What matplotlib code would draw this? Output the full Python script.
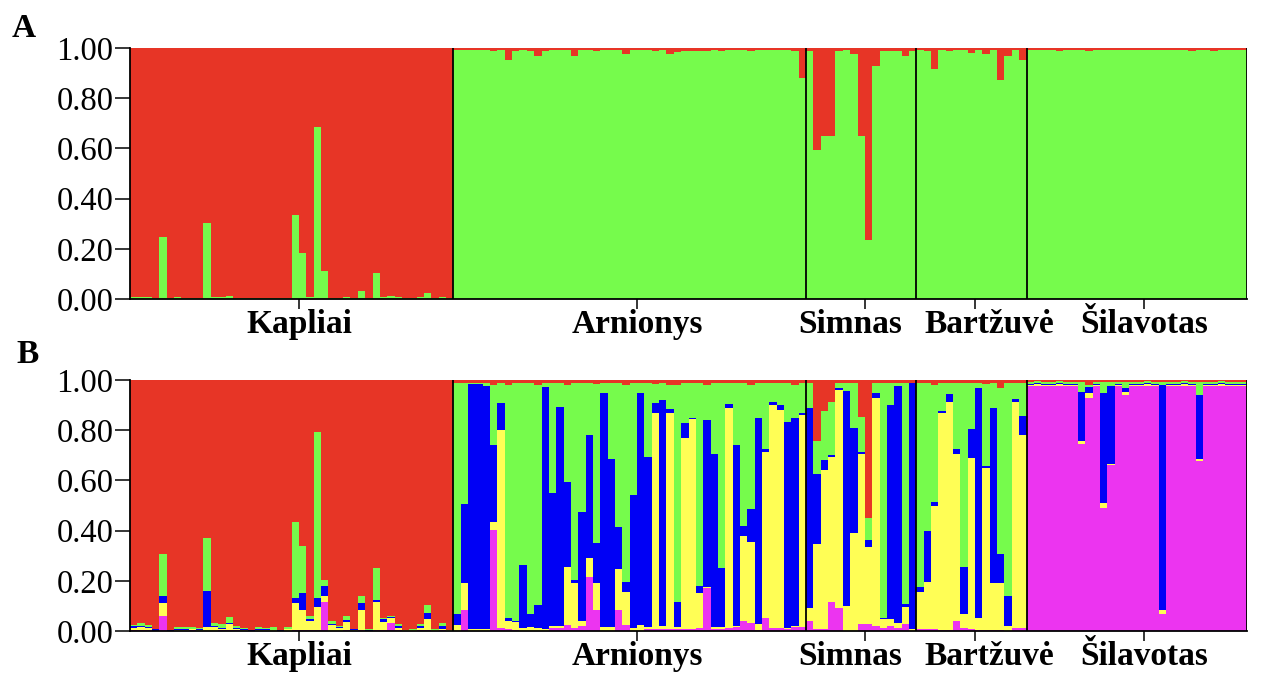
import numpy as np
import matplotlib.pyplot as plt

# populations, in plot order
pops = ["Kapliai", "Arnionys", "Simnas", "Bartžuvė", "Šilavotas"]
pop_sizes = [44, 48, 15, 15, 30]

# ---- panel A (K=2): green cluster share per individual, red = rest ----
a_green = (
    # Kapliai
    [.007, .007, .007, .002, .248, .002, .007, .002, .002, .002,
     .304, .007, .007, .012, .002, .002, .002, .005, .002, .002,
     .002, .002, .333, .184, .007, .685, .112, .002, .002, .007,
     .002, .033, .002, .104, .007, .012, .007, .002, .002, .007,
     .025, .002, .007, .002]
    # Arnionys
    + [.992, .992, .992, .992, .992, .987, .992, .951, .987, .992,
       .987, .968, .987, .992, .992, .992, .968, .992, .992, .987,
       .992, .992, .992, .975, .992, .992, .992, .987, .992, .975,
       .984, .987, .987, .987, .987, .992, .987, .992, .992, .992,
       .987, .992, .992, .992, .992, .992, .987, .880]
    # Simnas
    + [.990, .595, .650, .650, .987, .992, .976, .650, .235, .930,
       .987, .990, .990, .967, .990]
    # Bartzuve
    + [.992, .987, .915, .992, .987, .992, .992, .980, .992, .975,
       .992, .872, .967, .992, .951]
    # Silavotas
    + [.994, .994, .994, .994, .987, .994, .994, .994, .987, .994,
       .994, .994, .994, .994, .994, .994, .994, .994, .994, .994,
       .994, .994, .987, .994, .994, .987, .994, .994, .994, .994]
)

# ---- panel B (K=5): pink, yellow, blue, green shares, red = rest ----
b_pink = (
    [.003, .005, .004, 0, .06, 0, 0, 0, .002, 0,
     0, 0, .002, .004, .002, 0, 0, .001, 0, .001,
     0, 0, .005, .003, .002, .003, .117, 0, .001, .002,
     0, .002, 0, .003, .003, .033, .005, 0, 0, .002,
     .003, 0, .002, 0]
    + [0, .083, 0, 0, 0, .403, .01, .007, .005, 0,
       0, 0, 0, .013, .013, .024, .01, .02, .217, .083,
       0, 0, .083, .024, 0, 0, .007, .007, .007, .007,
       .007, .007, .007, .013, .17, .007, .007, .013, .016, .04,
       .033, .005, .053, .01, .01, .007, .016, .016]
    + [.04, .007, .007, .117, .09, 0, 0, .027, .027, .02, .013, .02, .013, .027, 0]
    + [.007, .007, .007, .003, .003, .04, .013, .007, .003, .003, .003, .003, 0, .01, .01]
    + [.975, .975, .975, .975, .975, .975, .975, .747, .93, .975,
       .491, .66, .975, .94, .975, .975, .975, .975, .069, .975,
       .975, .975, .975, .676, .975, .975, .975, .975, .975, .975]
)
b_yellow = (
    [.01, .01, .006, .001, .053, 0, .004, .004, .004, .005,
     .016, .016, .005, .023, .004, .004, .001, .002, .002, .002,
     .001, .006, .105, .08, .038, .094, .023, .024, .01, .035,
     .005, .081, .001, .114, .034, .017, .008, .002, .003, .011,
     .044, .003, .005, .002]
    + [.024, .108, .006, .006, .006, .03, .79, .033, .03, .013,
       .016, .01, .007, .007, .007, .23, .18, .02, .072, .108,
       .016, .016, .164, .13, .01, .024, .007, .863, .013, .863,
       .007, .763, .836, .14, .005, .01, .01, .877, .004, .34,
       .32, .024, .66, .89, .872, .004, .004, .844]
    + [.05, .34, .636, .576, .87, .1, .39, .68, .307, .91, .033, .027, .017, .07, .007]
    + [.147, .19, .493, .864, .91, .667, .056, .683, .05, .648, .187, .187, .02, .903, .77]
    + [.005, .008, .005, .005, .008, .005, .005, .01, .019, .005,
       .02, .004, .005, .013, .005, .005, .008, .005, .016, .005,
       .005, .008, .005, .008, .005, .005, .008, .005, .005, .005]
)
b_blue = (
    [.006, .005, .004, .005, .027, .004, .004, .004, .002, .001,
     .144, .005, .005, .006, .004, .002, .004, .005, .006, .002,
     .004, .002, .023, .07, .007, .033, .04, .002, .003, .005,
     .001, .028, .001, .005, .009, .005, .007, .001, .001, .007,
     .023, .001, .013, .001]
    + [.045, .316, .977, .977, .972, .307, .107, .013, .003, .25,
       .053, .093, .964, .53, .873, .34, .013, .433, .49, .16,
       .933, .67, .167, .04, .53, .925, .68, .037, .9, .015,
       .1, .057, .004, .027, .667, .69, .235, .016, .72, .04,
       .133, .82, .013, .013, .02, .823, .827, .01]
    + [.8, .28, .037, .01, .01, .857, .417, .007, .027, .017, .007, .853, .947, .01, .98]
    + [.023, .2, .013, .01, .03, .02, .184, .113, .917, .005, .7, .117, .12, .013, .076]
    + [.005, .005, .006, .005, .005, .006, .005, .196, .024, .005,
       .437, .313, .005, .017, .005, .006, .005, .005, .896, .005,
       .005, .005, .006, .256, .005, .005, .005, .006, .005, .006]
)
b_green = (
    [.005, .01, .01, .001, .167, .001, .008, .008, .008, .005,
     .21, .01, .014, .022, .008, .004, 0, .007, .002, .01,
     0, .008, .3, .187, .013, .663, .023, .013, .007, .017,
     .001, .029, .004, .13, .007, .004, .007, .001, .002, .007,
     .035, .002, .013, .001]
    + [.921, .483, .007, .007, .012, .24, .083, .927, .952, .727,
       .921, .877, .019, .44, .097, .386, .787, .517, .211, .634,
       .041, .304, .576, .786, .45, .041, .296, .078, .07, .095,
       .866, .163, .143, .81, .138, .283, .738, .084, .25, .57,
       .494, .141, .264, .077, .088, .156, .133, .12]
    + [.1, .13, .197, .21, .02, .033, .183, .14, .09, .04, .937, .09, .013, .883, .003]
    + [.813, .593, .467, .113, .047, .263, .737, .184, .02, .33, .1, .66, .85, .064, .133]
    + [.008, .008, .008, .008, .008, .008, .008, .04, .007, .008,
       .045, .016, .008, .023, .008, .008, .008, .008, .012, .008,
       .008, .008, .008, .053, .008, .008, .008, .008, .008, .008]
)

RED, GREEN, BLUE, YELLOW, PINK = "#E73526", "#76FB4C", "#0000F5", "#FFFE55", "#EC34F0"
SERIF = "Liberation Serif"


def draw_structure(ax, layers, colors):
    n = len(layers[0])
    x = np.arange(n)
    bottom = np.zeros(n)
    for vals, col in zip(layers, colors):
        vals = np.clip(np.asarray(vals, float), 0, None)
        ax.bar(x, vals, bottom=bottom, width=1.0, align="edge", color=col,
               linewidth=0, antialiased=False)
        bottom += vals
    # remaining share goes to the red cluster on top
    ax.bar(x, np.clip(1 - bottom, 0, None), bottom=bottom, width=1.0, align="edge",
           color=RED, linewidth=0, antialiased=False)

    bounds = np.cumsum(pop_sizes)
    for b in bounds:
        ax.axvline(b, color="black", lw=1.3, zorder=5)
    ax.set_xlim(0, bounds[-1])
    ax.set_ylim(0, 1)
    for s in ["top", "right"]:
        ax.spines[s].set_visible(False)
    for s in ["left", "bottom"]:
        ax.spines[s].set_linewidth(1.3)
        ax.spines[s].set_zorder(6)

    ax.set_yticks(np.arange(0, 1.01, 0.2))
    ax.set_yticklabels(["%.2f" % v for v in np.arange(0, 1.01, 0.2)],
                       fontfamily=SERIF, fontsize=23.5)
    ax.tick_params(axis="y", length=11, width=1.1, pad=1)

    starts = bounds - np.array(pop_sizes)
    ticks = starts + np.array(pop_sizes) // 2 + 1
    ax.set_xticks(ticks)
    ax.set_xticklabels([])
    ax.tick_params(axis="x", length=7, width=1.1)
    shift = [0, 0, -2, 2, 0]
    for t, s, name in zip(ticks, shift, pops):
        ax.text(t + s, -0.135, name, transform=ax.get_xaxis_transform(),
                ha="center", va="baseline", fontfamily=SERIF,
                fontweight="bold", fontsize=24)


fig = plt.figure(figsize=(12.7, 6.73), dpi=100)
ax_a = fig.add_axes([130 / 1270, 1 - 299 / 673, 1117 / 1270, 251 / 673])
ax_b = fig.add_axes([130 / 1270, 1 - 631 / 673, 1117 / 1270, 251 / 673])

draw_structure(ax_a, [a_green], [GREEN])
draw_structure(ax_b, [b_pink, b_yellow, b_blue, b_green], [PINK, YELLOW, BLUE, GREEN])

fig.text(12 / 1270, 1 - 37 / 673, "A", fontfamily=SERIF, fontweight="bold", fontsize=24)
fig.text(16 / 1270, 1 - 363 / 673, "B", fontfamily=SERIF, fontweight="bold", fontsize=24)

fig.savefig("out.png", dpi=100)
